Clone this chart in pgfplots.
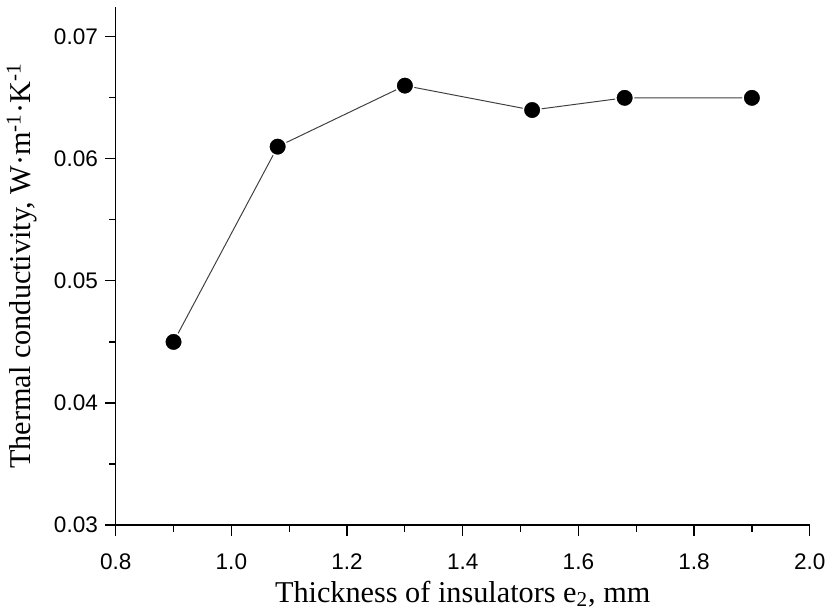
\documentclass[border=0pt]{standalone}
\usepackage{pgfplots}
\pgfplotsset{compat=1.18}
\usepackage{fontspec}
\setmainfont{Liberation Serif}
\newfontfamily\ticksans{Liberation Sans}
\begin{document}
\begin{tikzpicture}
\begin{axis}[
  scale only axis,
  width=351pt, height=262pt,
  xmin=0.8, xmax=2.0, ymin=0.03, ymax=0.07245,
  axis lines*=left,
  axis line style={line width=0.6pt},
  xtick={0.8,1.0,1.2,1.4,1.6,1.8,2.0},
  ytick={0.03,0.04,0.05,0.06,0.07},
  minor xtick={0.9,1.1,1.3,1.5,1.7,1.9},
  minor ytick={0.035,0.045,0.055,0.065},
  tick align=outside,
  major tick length=5.5pt,
  minor tick length=3.3pt,
  every tick/.style={line width=0.6pt, black},
  xticklabel style={yshift=-5.5pt, /pgf/number format/.cd, fixed, fixed zerofill, precision=1},
  yticklabel style={/pgf/number format/.cd, fixed, fixed zerofill, precision=2},
  /pgf/number format/assume math mode=true,
  scaled y ticks=false,
  tick label style={font=\ticksans\fontsize{11.4}{13}\selectfont},
  label style={font=\fontsize{15.3}{17}\selectfont},
  xlabel style={yshift=1pt},
  ylabel style={yshift=1.5pt},
  xlabel={Thickness of insulators e\textsubscript{2}, mm},
  ylabel={Thermal conductivity, W·m\textsuperscript{-1}·K\textsuperscript{-1}},
  clip=false,
]
\addplot[line width=0.5pt, color=black!75,
  mark=*, mark size=4.5pt,
  mark options={fill=black, draw=white, line width=0.8pt, solid}]
  coordinates {(0.9,0.045) (1.08,0.061) (1.3,0.066) (1.52,0.064) (1.68,0.065) (1.9,0.065)};
\end{axis}
\path ([yshift=3.5pt]current axis.north) -- ([xshift=8pt]current axis.east);
\end{tikzpicture}
\end{document}
